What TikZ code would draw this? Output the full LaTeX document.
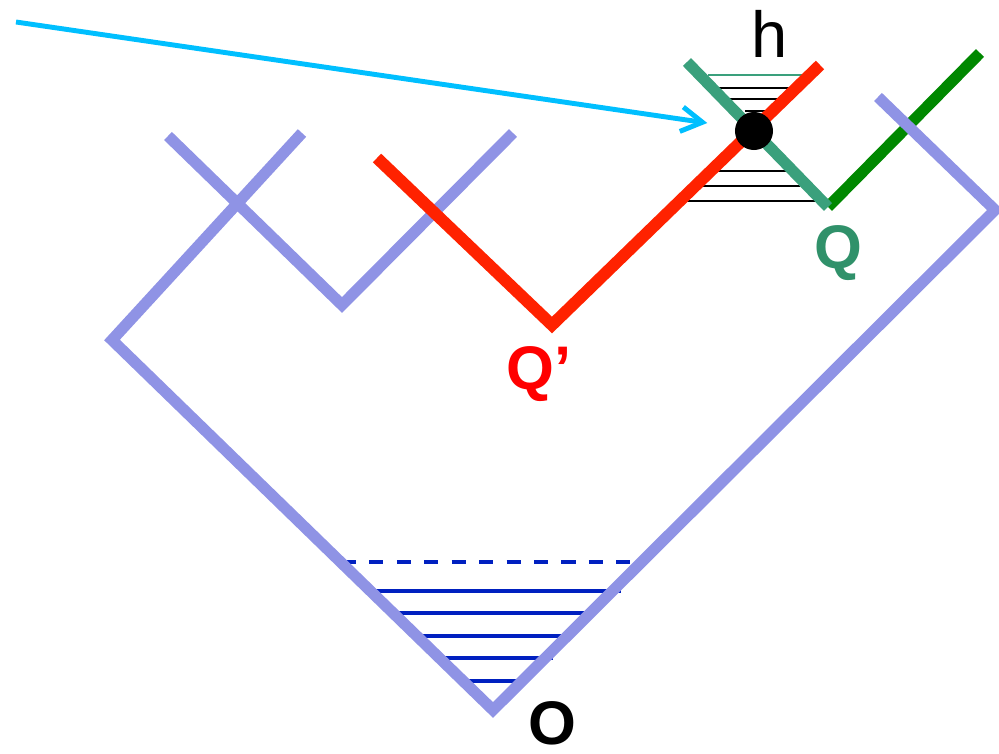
\documentclass[tikz,border=0pt]{standalone}
\usepackage{fontspec}
\setmainfont{Liberation Sans}
\usepackage{tikz}
\usetikzlibrary{positioning}
\usetikzlibrary{arrows.meta,calc}
\definecolor{lav}{RGB}{143,147,229}
\definecolor{redline}{RGB}{255,34,0}
\definecolor{tealline}{RGB}{58,160,124}
\definecolor{tealtext}{RGB}{48,145,106}
\definecolor{darkgreen}{RGB}{0,136,0}
\definecolor{hatchblue}{RGB}{0,32,192}
\definecolor{skyline}{RGB}{0,191,255}
\tikzset{
  x=0.01cm, y=-0.01cm,
  wl/.style = {draw=lav, line width=3.2pt},
  rl/.style = {draw=redline, line width=3.4pt},
  tl/.style = {draw=tealline, line width=3.2pt},
  gl/.style = {draw=darkgreen, line width=3.2pt},
  hb/.style = {draw=hatchblue, line width=0.9pt},
  hk/.style = {draw=black, line width=0.7pt},
  lbl/.style = {inner sep=0pt, font=\fontsize{17.5}{17.5}\selectfont\bfseries},
}

\begin{document}
\begin{tikzpicture}
  \useasboundingbox (0,0) rectangle (999,754);
  % corners of the big cone
  \coordinate (O)  at (493,710);
  \coordinate (L)  at (112,340);
  \coordinate (R)  at (995,210);
  \coordinate (RT) at (878,97);
  \coordinate (A1) at (302,133);
  \coordinate (A2) at (168,136);
  \coordinate (V1) at (342,305);
  \coordinate (A3) at (513,133);
  % red path through Q'
  \coordinate (R0) at (377,158);
  \coordinate (Qp) at (552,325);
  \coordinate (R1) at (820,65);
  % teal / green path through Q
  \coordinate (T0) at (687,62);
  \coordinate (Q)  at (828,207);
  \coordinate (G1) at (980,53);
  \coordinate (src) at (16,22);

  % hatching at the bottom
  \draw[hb, dash pattern=on 4pt off 3.8pt] (342,562) -- (633,562);
  \foreach \y/\a/\b in {591/371/621, 613/394/587, 636/417/564, 658/440/553, 681/462/519}
    \draw[hb] (\a,\y) -- (\b,\y);
  % hatching round h
  \draw[draw=tealline, line width=0.7pt] (708,75) -- (816,75);
  \foreach \y/\a/\b in {88/709/793, 99/721/781, 111/745/769, 171/708/792, 186/699/800, 201/682/818}
    \draw[hk] (\a,\y) -- (\b,\y);

  \draw[gl] (Q) -- (G1);
  \draw[wl, line join=miter] (A1) -- (L) -- (O) -- (R) -- (RT);
  \draw[wl, line join=miter] (A2) -- (V1) -- (A3);
  \draw[rl, line join=miter] (R0) -- (Qp) -- (R1);
  \draw[tl] (T0) -- (Q);
  % the point h
  \node (h) [circle, fill=black, minimum size=0.38cm, inner sep=0pt] at (754,131) {};

  \draw[draw=skyline, line width=1.4pt, -{Straight Barb[length=6pt, width=7pt]}]
    (src) -- ($(h.west)+(-27,-8)$);

  \node (hl) [inner sep=0pt, font=\fontsize{18.5}{18.5}\selectfont] at (770,34) {h};
  \node (Ql) [lbl, text=tealtext] at (838,253) {Q};
  \node (Qpl) [lbl, text=red] at (539,374) {Q’};
  \node (Ol) [lbl] at (552,723) {O};
\end{tikzpicture}
\end{document}
